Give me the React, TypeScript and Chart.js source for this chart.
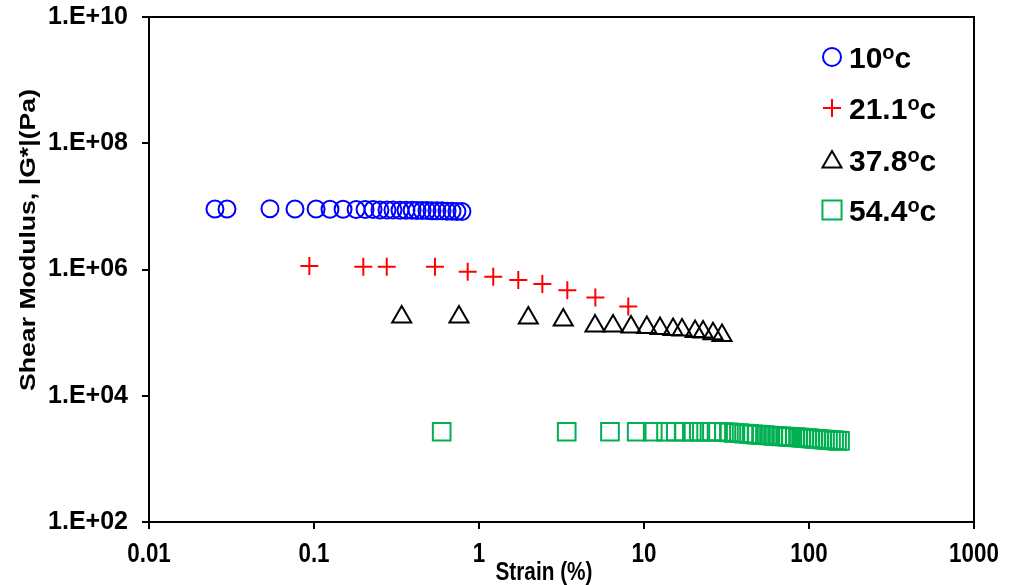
import React, { useEffect, useRef } from 'react';
import { Chart, registerables } from 'chart.js';

Chart.register(...registerables);

// ---------- data ----------
const seriesLabels = ['10', '21.1', '37.8', '54.4'];

const s10X = [0.0251, 0.0297, 0.0541, 0.0767, 0.103, 0.125, 0.15, 0.18, 0.204, 0.228, 0.251, 0.277, 0.301, 0.332, 0.361, 0.393, 0.421, 0.452, 0.484, 0.519, 0.556, 0.597, 0.64, 0.686, 0.735, 0.788];
const s10Y = [9.1e6, 9.1e6, 9.2e6, 9.1e6, 9.1e6, 9.0e6, 9.0e6, 8.9e6, 8.9e6, 8.9e6, 8.8e6, 8.8e6, 8.8e6, 8.7e6, 8.7e6, 8.7e6, 8.6e6, 8.6e6, 8.6e6, 8.5e6, 8.5e6, 8.5e6, 8.4e6, 8.4e6, 8.3e6, 8.3e6];

const s21X = [0.0937, 0.199, 0.276, 0.541, 0.854, 1.22, 1.73, 2.42, 3.43, 5.07, 8.03];
const s21Y = [1.14e6, 1.11e6, 1.11e6, 1.11e6, 9.2e5, 7.7e5, 6.8e5, 5.9e5, 4.7e5, 3.6e5, 2.6e5];

const s37X = [0.34, 0.756, 1.99, 3.24, 5.05, 6.49, 8.34, 10.4, 12.5, 15.0, 17.0, 20.4, 22.8, 26.2, 29.7];
const s37Y = [1.77e5, 1.77e5, 1.71e5, 1.58e5, 1.27e5, 1.27e5, 1.23e5, 1.21e5, 1.16e5, 1.12e5, 1.1e5, 1.04e5, 1.02e5, 9.6e4, 9.0e4];

const s54X = [0.594, 3.4, 6.22, 9.03, 11.3, 13.6, 15.6, 17.5, 19.5, 21.5, 23.8, 25.8, 28.1, 30.5, 32.7, 35.1, 37.6, 40.4, 43.3, 45.8, 48.4, 51.2, 54.1, 57.2, 60.5, 64.0, 67.7, 71.6, 74.6, 77.8, 82.2, 85.8, 89.5, 93.3, 97.3, 101.4, 105.7, 110.2, 115.0, 119.9, 125.0, 130.3, 135.9, 141.8, 147.8, 154.1];
const s54Y = [2690, 2690, 2690, 2690, 2690, 2690, 2690, 2690, 2690, 2690, 2690, 2690, 2690, 2666, 2627, 2589, 2551, 2515, 2487, 2451, 2424, 2398, 2371, 2346, 2320, 2294, 2278, 2261, 2236, 2220, 2204, 2180, 2164, 2141, 2125, 2110, 2086, 2071, 2057, 2027, 2013, 1999, 1977, 1963, 1949, 1933];

const xTickValues = [0.01, 0.1, 1, 10, 100, 1000];
const xTickLabels = ['0.01', '0.1', '1', '10', '100', '1000'];
const yTickValues = [1e2, 1e4, 1e6, 1e8, 1e10];
const yTickLabels = ['1.E+02', '1.E+04', '1.E+06', '1.E+08', '1.E+10'];

const xTitle = 'Strain (%)';
const yTitle = 'Shear Modulus, |G*|(Pa)';

// ---------- styles ----------
const colors = ['#0000FF', '#FF0000', '#000000', '#00B050'];
const styles = ['circle', 'cross', 'triangle', 'rect'] as const;
const radii = [8.5, 9, 11, 12.5];

const BOLD = '"Liberation Sans", Arial, sans-serif';
const X_SQUEEZE = 0.8;

function toPts(xs: number[], ys: number[]) {
  return xs.map((x, i) => ({ x, y: ys[i] }));
}

function drawMarker(ctx: CanvasRenderingContext2D, style: string, x: number, y: number, r: number) {
  ctx.beginPath();
  if (style === 'circle') {
    ctx.arc(x, y, r, 0, Math.PI * 2);
  } else if (style === 'cross') {
    ctx.moveTo(x - r, y);
    ctx.lineTo(x + r, y);
    ctx.moveTo(x, y - r);
    ctx.lineTo(x, y + r);
  } else if (style === 'triangle') {
    ctx.moveTo(x, y - r);
    ctx.lineTo(x + r * 0.866, y + r * 0.5);
    ctx.lineTo(x - r * 0.866, y + r * 0.5);
    ctx.closePath();
  } else {
    const s = r * Math.SQRT1_2;
    ctx.rect(x - s, y - s, 2 * s, 2 * s);
  }
  ctx.stroke();
}

const framePlugin = {
  id: 'frame',
  afterDraw(chart: any) {
    const { ctx, chartArea: a } = chart;
    ctx.save();
    ctx.strokeStyle = '#000';
    ctx.lineWidth = 2;
    ctx.beginPath();
    ctx.moveTo(a.left, a.top);
    ctx.lineTo(a.right, a.top);
    ctx.lineTo(a.right, a.bottom);
    ctx.stroke();
    ctx.restore();
  },
};

const legendPlugin = {
  id: 'customLegend',
  afterDraw(chart: any) {
    const ctx: CanvasRenderingContext2D = chart.ctx;
    const rowY = [57, 108, 160, 210];
    ctx.save();
    seriesLabels.forEach((lab, i) => {
      const cy = rowY[i];
      ctx.strokeStyle = colors[i];
      ctx.lineWidth = 2;
      const lr = styles[i] === 'triangle' ? 11 : styles[i] === 'rect' ? 13.5 : 9;
      drawMarker(ctx, styles[i], 832, styles[i] === 'triangle' ? cy + 2 : cy, lr);
      ctx.fillStyle = '#000';
      ctx.textBaseline = 'alphabetic';
      ctx.textAlign = 'left';
      const base = cy + 10.5;
      ctx.font = `bold 30px ${BOLD}`;
      let x = 849;
      ctx.fillText(lab, x, base);
      x += ctx.measureText(lab).width;
      ctx.font = `bold 20px ${BOLD}`;
      ctx.fillText('o', x, base - 9);
      x += ctx.measureText('o').width;
      ctx.font = `bold 30px ${BOLD}`;
      ctx.fillText('c', x, base);
    });
    ctx.restore();
  },
};

const axisTextPlugin = {
  id: 'axisText',
  afterDraw(chart: any) {
    const ctx: CanvasRenderingContext2D = chart.ctx;
    const xs = chart.scales.x;
    ctx.save();
    ctx.fillStyle = '#000';
    ctx.textAlign = 'center';
    ctx.textBaseline = 'alphabetic';
    // x tick labels (condensed, as in the reference)
    ctx.font = `bold 28px ${BOLD}`;
    xTickValues.forEach((v, i) => {
      const px = xs.getPixelForValue(v);
      ctx.save();
      ctx.translate(px, 562);
      ctx.scale(X_SQUEEZE, 1);
      ctx.fillText(xTickLabels[i], 0, 0);
      ctx.restore();
    });
    // x title
    ctx.save();
    ctx.font = `bold 26px ${BOLD}`;
    ctx.translate(544, 580);
    ctx.scale(X_SQUEEZE, 1);
    ctx.fillText(xTitle, 0, 0);
    ctx.restore();
    // y title (rotated, elongated)
    ctx.save();
    ctx.font = `bold 22px ${BOLD}`;
    const w = ctx.measureText(yTitle).width;
    ctx.translate(35, 240);
    ctx.rotate(-Math.PI / 2);
    ctx.scale(302 / w, 1);
    ctx.fillText(yTitle, 0, 0);
    ctx.restore();
    ctx.restore();
  },
};

export default function App() {
  const ref = useRef<HTMLCanvasElement>(null);
  useEffect(() => {
    document.body.style.margin = '0';
    const datasets = [
      toPts(s10X, s10Y),
      toPts(s21X, s21Y),
      toPts(s37X, s37Y),
      toPts(s54X, s54Y),
    ].map((data, i) => ({
      label: seriesLabels[i] + 'ºc',
      data,
      pointStyle: styles[i],
      pointRadius: radii[i],
      pointBorderWidth: 2,
      pointBorderColor: colors[i],
      pointBackgroundColor: 'rgba(0,0,0,0)',
      showLine: false,
    }));
    const chart = new Chart(ref.current!, {
      type: 'scatter',
      data: { datasets },
      options: {
        responsive: false,
        animation: false,
        devicePixelRatio: 1,
        layout: { padding: { top: 17, right: 36, left: 0, bottom: 0 } },
        plugins: { legend: { display: false }, tooltip: { enabled: false } },
        scales: {
          x: {
            type: 'logarithmic',
            min: 0.01,
            max: 1000,
            afterBuildTicks: (s: any) => {
              s.ticks = xTickValues.map((v) => ({ value: v }));
            },
            afterFit: (s: any) => {
              s.height = 63;
              s.paddingLeft = 0;
              s.paddingRight = 0;
            },
            ticks: { display: false, autoSkip: false, maxRotation: 0 },
            grid: { drawOnChartArea: false, drawTicks: true, tickLength: 7, color: '#000', lineWidth: 2 },
            border: { color: '#000', width: 2 },
          },
          y: {
            type: 'logarithmic',
            min: 1e2,
            max: 1e10,
            afterBuildTicks: (s: any) => {
              s.ticks = yTickValues.map((v) => ({ value: v }));
            },
            afterFit: (s: any) => {
              s.width = 149;
              s.paddingTop = 0;
              s.paddingBottom = 0;
            },
            ticks: {
              autoSkip: false,
              padding: 14,
              color: '#000',
              font: { family: BOLD, size: 25, weight: 'bold' },
              callback: (_v: any, i: number) => yTickLabels[i],
            },
            grid: { drawOnChartArea: false, drawTicks: true, tickLength: 7, color: '#000', lineWidth: 2 },
            border: { color: '#000', width: 2 },
          },
        },
      } as any,
      plugins: [framePlugin, legendPlugin, axisTextPlugin],
    });
    return () => chart.destroy();
  }, []);
  return (
    <div style={{ position: 'absolute', left: 0, top: 0, width: 1010, height: 585, background: '#fff' }}>
      <canvas ref={ref} width={1010} height={585} />
    </div>
  );
}
